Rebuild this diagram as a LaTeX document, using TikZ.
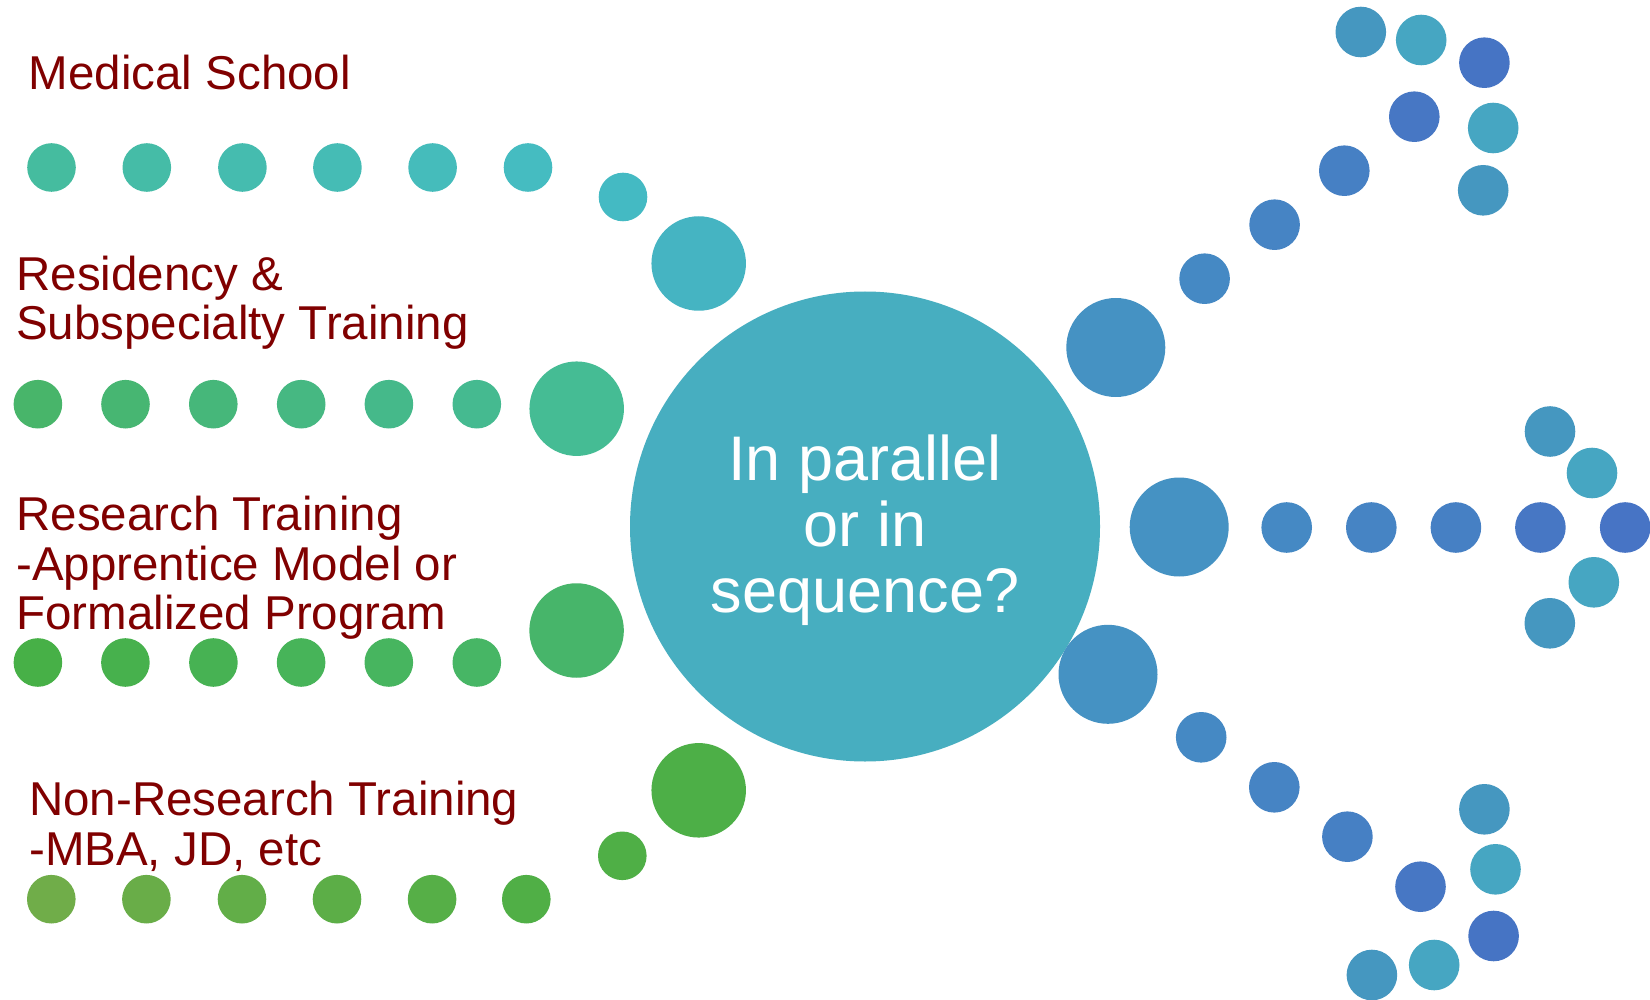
\documentclass[tikz,border=0pt]{standalone}
\usepackage{fontspec}
\setmainfont{Liberation Sans}
\begin{document}
\begin{tikzpicture}[x=1pt,y=-1pt,
  dot/.style={circle, inner sep=0pt, minimum size=48.6pt, draw=none},
  rdot/.style={circle, inner sep=0pt, minimum size=50.6pt, draw=none},
  bigdot/.style={circle, inner sep=0pt, minimum size=94.5pt, draw=none},
  rbig/.style={circle, inner sep=0pt, minimum size=99pt, draw=none},
  label/.style={anchor=base west, inner sep=0pt, align=left, text=labelred,
    font=\fontsize{47.5}{49.7}\selectfont}]
\definecolor{labelred}{HTML}{800000}
\definecolor{hub}{HTML}{47AEC0}
% left rows, colours fade along each row
\definecolor{ma}{HTML}{45BC9F}\definecolor{mb}{HTML}{45BCA7}\definecolor{mc}{HTML}{45BCAF}
\definecolor{md}{HTML}{45BCB5}\definecolor{me}{HTML}{45BCBB}\definecolor{mf}{HTML}{45BCC1}
\definecolor{mg}{HTML}{44BAC3}\definecolor{mh}{HTML}{45B4C2}
\definecolor{ra}{HTML}{48B56A}\definecolor{rb}{HTML}{47B672}\definecolor{rc}{HTML}{46B77A}
\definecolor{rd}{HTML}{46B882}\definecolor{re}{HTML}{45B98A}\definecolor{rf}{HTML}{45BA90}
\definecolor{rg}{HTML}{45BC94}
\definecolor{ta}{HTML}{47B047}\definecolor{tb}{HTML}{47B14D}\definecolor{tc}{HTML}{47B253}
\definecolor{td}{HTML}{47B459}\definecolor{te}{HTML}{47B55F}\definecolor{tf}{HTML}{47B665}
\definecolor{tg}{HTML}{47B56A}
\definecolor{na}{HTML}{70AD49}\definecolor{nb}{HTML}{69AD48}\definecolor{nc}{HTML}{62AE48}
\definecolor{nd}{HTML}{5CAE47}\definecolor{ne}{HTML}{56AF47}\definecolor{nf}{HTML}{50AF46}
\definecolor{ng}{HTML}{4FAF46}\definecolor{nh}{HTML}{4DAF47}
% right branches
\definecolor{bbig}{HTML}{4592C3}
\definecolor{ba}{HTML}{4589C4}\definecolor{bb}{HTML}{4684C4}\definecolor{bc}{HTML}{4680C4}
\definecolor{bd}{HTML}{4777C4}\definecolor{be}{HTML}{4774C5}
\definecolor{ca}{HTML}{4597C0}\definecolor{cb}{HTML}{46A6C2}\definecolor{cc}{HTML}{4674C4}

\path[use as bounding box, fill=white] (0,0) rectangle (1650,1000);

% central question (base anchor sits on the last line)
\node[circle, fill=hub, inner sep=0pt, minimum size=470pt] (hubc) at (865,526.5) {};
\node[anchor=base, inner sep=0pt, align=center, text=white,
  font=\fontsize{63}{66}\selectfont] (question) at (865,612.3)
  {In parallel\\or in\\sequence?};

% Medical School row
\node[label] (lmed) at (28.7,89.3) {Medical School};
\node[dot, fill=ma] (m1) at (51.5,167.5) {};
\node[dot, fill=mb] (m2) at (146.8,167.5) {};
\node[dot, fill=mc] (m3) at (242.4,167.5) {};
\node[dot, fill=md] (m4) at (337.4,167.5) {};
\node[dot, fill=me] (m5) at (432.6,167.5) {};
\node[dot, fill=mf] (m6) at (528,167.5) {};
\node[dot, fill=mg] (m7) at (623,197) {};
\node[bigdot, fill=mh] (m8) at (698.7,263.5) {};

% Residency row
\node[label] (lres) at (16.1,340) {Residency \&\\Subspecialty Training};
\node[dot, fill=ra] (r1) at (37.9,404.2) {};
\node[dot, fill=rb] (r2) at (125.5,404.2) {};
\node[dot, fill=rc] (r3) at (213.3,404.2) {};
\node[dot, fill=rd] (r4) at (301.2,404.2) {};
\node[dot, fill=re] (r5) at (388.9,404.2) {};
\node[dot, fill=rf] (r6) at (476.8,404.2) {};
\node[bigdot, fill=rg] (r7) at (576.7,408.7) {};

% Research row
\node[label] (lrsch) at (16.1,629.8) {Research Training\\-Apprentice Model or\\Formalized Program};
\node[dot, fill=ta] (t1) at (37.9,662.5) {};
\node[dot, fill=tb] (t2) at (125.4,662.5) {};
\node[dot, fill=tc] (t3) at (213.4,662.5) {};
\node[dot, fill=td] (t4) at (301.1,662.5) {};
\node[dot, fill=te] (t5) at (388.8,662.5) {};
\node[dot, fill=tf] (t6) at (476.8,662.5) {};
\node[bigdot, fill=tg] (t7) at (576.6,630.5) {};

% Non-research row
\node[label] (lnon) at (29,865) {Non-Research Training\\-MBA, JD, etc};
\node[dot, fill=na] (n1) at (51.3,899.2) {};
\node[dot, fill=nb] (n2) at (146.4,899.2) {};
\node[dot, fill=nc] (n3) at (242,899.2) {};
\node[dot, fill=nd] (n4) at (337,899.2) {};
\node[dot, fill=ne] (n5) at (432.1,899.2) {};
\node[dot, fill=nf] (n6) at (526.3,899.2) {};
\node[dot, fill=ng] (n7) at (622.3,855.8) {};
\node[bigdot, fill=nh] (n8) at (698.7,790.3) {};

% upper right branch
\node[rbig, fill=bbig] (u0) at (1115.8,347.5) {};
\node[rdot, fill=ba] (u1) at (1204.6,278.7) {};
\node[rdot, fill=bb] (u2) at (1274.6,224.7) {};
\node[rdot, fill=bc] (u3) at (1344.3,170.7) {};
\node[rdot, fill=bd] (u4) at (1414.3,116.7) {};
\node[rdot, fill=ca] (u5) at (1360.8,32) {};
\node[rdot, fill=cb] (u6) at (1421.2,40) {};
\node[rdot, fill=cc] (u7) at (1484.4,62.7) {};
\node[rdot, fill=cb] (u8) at (1493.2,128) {};
\node[rdot, fill=ca] (u9) at (1483.2,190.3) {};

% middle right branch
\node[rbig, fill=bbig] (h0) at (1179.2,527) {};
\node[rdot, fill=ba] (h1) at (1286.7,527.5) {};
\node[rdot, fill=bb] (h2) at (1371.3,527.5) {};
\node[rdot, fill=bc] (h3) at (1455.9,527.5) {};
\node[rdot, fill=bd] (h4) at (1540.4,527.5) {};
\node[rdot, fill=be] (h5) at (1625.2,527.5) {};
\node[rdot, fill=ca] (h6) at (1550,431.5) {};
\node[rdot, fill=cb] (h7) at (1592,473) {};
\node[rdot, fill=cb] (h8) at (1593.8,582.3) {};
\node[rdot, fill=ca] (h9) at (1549.8,623.3) {};

% lower right branch
\node[rbig, fill=bbig] (d0) at (1108,674.3) {};
\node[rdot, fill=ba] (d1) at (1201.2,737.3) {};
\node[rdot, fill=bb] (d2) at (1274.3,787.3) {};
\node[rdot, fill=bc] (d3) at (1347.4,836.7) {};
\node[rdot, fill=bd] (d4) at (1420.5,886.7) {};
\node[rdot, fill=ca] (d5) at (1484.4,809.3) {};
\node[rdot, fill=cb] (d6) at (1495.5,869.3) {};
\node[rdot, fill=cc] (d7) at (1493.6,936) {};
\node[rdot, fill=cb] (d8) at (1434.2,965) {};
\node[rdot, fill=ca] (d9) at (1371.9,975) {};
\end{tikzpicture}
\end{document}
